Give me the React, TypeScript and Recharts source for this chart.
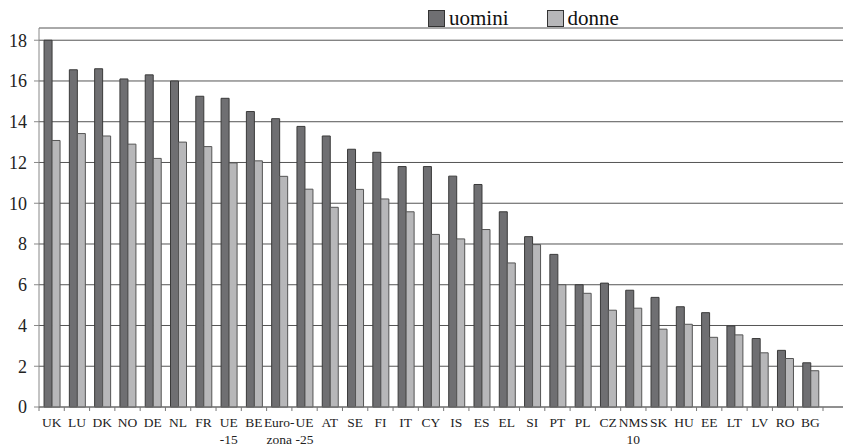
import React from 'react';
import { BarChart, Bar, XAxis, YAxis, CartesianGrid } from 'recharts';

const countries = [
  'UK', 'LU', 'DK', 'NO', 'DE', 'NL', 'FR', 'UE\n-15', 'BE', 'Euro-\nzona', 'UE\n-25',
  'AT', 'SE', 'FI', 'IT', 'CY', 'IS', 'ES', 'EL', 'SI', 'PT', 'PL', 'CZ', 'NMS\n10',
  'SK', 'HU', 'EE', 'LT', 'LV', 'RO', 'BG',
];

const uomini = [
  18.0, 16.55, 16.6, 16.1, 16.3, 16.0, 15.25, 15.15, 14.5, 14.15, 13.77,
  13.3, 12.65, 12.5, 11.8, 11.8, 11.33, 10.92, 9.58, 8.36, 7.49, 6.0, 6.08, 5.73,
  5.38, 4.92, 4.63, 3.98, 3.36, 2.78, 2.17,
];

const donne = [
  13.08, 13.42, 13.3, 12.9, 12.2, 13.0, 12.78, 11.98, 12.08, 11.32, 10.69,
  9.8, 10.68, 10.21, 9.58, 8.47, 8.25, 8.71, 7.07, 7.97, 6.0, 5.58, 4.75, 4.85,
  3.82, 4.06, 3.42, 3.54, 2.66, 2.38, 1.78,
];

const yTicks = [0, 2, 4, 6, 8, 10, 12, 14, 16, 18];

const data = countries.map((name, i) => ({ name, uomini: uomini[i], donne: donne[i] }));

const SERIF = 'Liberation Serif';
const DARK = '#6f6f72';
const LIGHT = '#b7b7b9';

const XTick = (props: any) => {
  const { x, y, payload, index } = props;
  const half = payload.offset || 12.65;
  const lines = String(payload.value).split('\n');
  return (
    <g>
      <line x1={x - half} x2={x - half} y1={y} y2={y + 4} stroke="#777" />
      {index === countries.length - 1 && (
        <line x1={x + half} x2={x + half} y1={y} y2={y + 4} stroke="#777" />
      )}
      {lines.map((l, i) => (
        <text
          key={i}
          x={x}
          y={y + 20 + i * 17}
          textAnchor="middle"
          fontFamily={SERIF}
          fontSize={13.5}
          fill="#222"
        >
          {l}
        </text>
      ))}
    </g>
  );
};

const LegendBox = ({ color, label }: { color: string; label: string }) => (
  <div style={{ display: 'flex', alignItems: 'center' }}>
    <div style={{ width: 15, height: 15, background: color, border: '1px solid #333' }} />
    <span style={{ fontSize: 21, color: '#111', marginLeft: 4, lineHeight: '20px' }}>{label}</span>
  </div>
);

export default function App() {
  return (
    <div style={{ position: 'absolute', left: 0, top: 0, width: 843, height: 446, fontFamily: SERIF }}>
      <div style={{ position: 'absolute', left: 428, top: 8, display: 'flex', gap: 38, zIndex: 2 }}>
        <LegendBox color={DARK} label="uomini" />
        <LegendBox color={LIGHT} label="donne" />
      </div>
      <BarChart
        width={843}
        height={446}
        data={data}
        margin={{ top: 28, right: 0, bottom: 0, left: 0 }}
        barCategoryGap="20%"
        barGap={0}
        style={{ fontFamily: SERIF }}
      >
        <CartesianGrid vertical={false} stroke="#555" />
        <XAxis
          dataKey="name"
          interval={0}
          height={39}
          padding={{ left: 0, right: 20 }}
          tickLine={false}
          tickSize={0}
          tickMargin={0}
          axisLine={{ stroke: '#777' }}
          tick={<XTick />}
        />
        <YAxis
          width={39}
          domain={[0, 18.6]}
          ticks={yTicks}
          interval={0}
          tickSize={5}
          tickMargin={7}
          axisLine={{ stroke: '#888' }}
          tickLine={{ stroke: '#888' }}
          tick={{ fontFamily: SERIF, fontSize: 18, fill: '#222' }}
        />
        <Bar dataKey="uomini" fill={DARK} stroke="#3a3a3a" strokeWidth={1} isAnimationActive={false} />
        <Bar dataKey="donne" fill={LIGHT} stroke="#555" strokeWidth={1} isAnimationActive={false} />
      </BarChart>
    </div>
  );
}
